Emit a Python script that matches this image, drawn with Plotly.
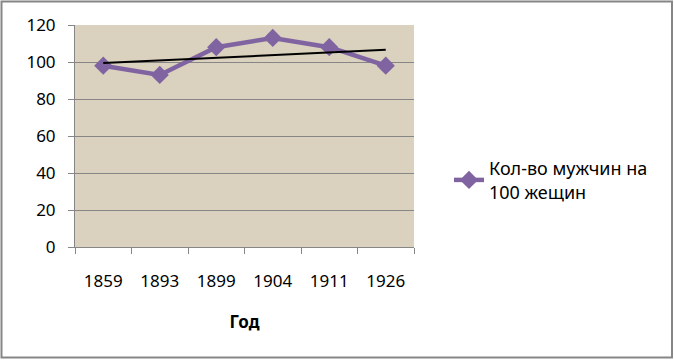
import numpy as np
import plotly.graph_objects as go

years = ["1859", "1893", "1899", "1904", "1911", "1926"]
men_per_100_women = [98, 93, 108, 113, 108, 98]
y_ticks = [0, 20, 40, 60, 80, 100, 120]
series_name = "Кол-во мужчин на<br>100 жещин"
x_title = "Год"

# linear trendline (as in the source spreadsheet chart)
idx = np.arange(1, len(years) + 1)
slope, intercept = np.polyfit(idx, men_per_100_women, 1)
trend = (slope * idx + intercept).tolist()

W, H = 674, 360
L, R, T, B = 75, 260, 25, 113
pw, ph = W - L - R, H - T - B

FONT = "Noto Sans"
fig = go.Figure()
fig.add_trace(go.Scatter(
    x=years, y=men_per_100_women, mode="lines+markers", name=series_name,
    line=dict(color="#8064A2", width=4.5),
    marker=dict(symbol="diamond", size=14, color="#8064A2"),
))
fig.add_trace(go.Scatter(
    x=years, y=trend, mode="lines", showlegend=False,
    line=dict(color="#000000", width=2), hoverinfo="skip",
))

def px_x(p):
    return (p - L) / pw

def px_y(p):
    return (H - B - p) / ph

fig.update_layout(
    width=W, height=H,
    margin=dict(l=L, r=R, t=T, b=B),
    paper_bgcolor="white",
    plot_bgcolor="#DAD1BE",
    font=dict(family=FONT, size=17, color="#000000"),
    showlegend=True,
    legend=dict(x=px_x(449), xanchor="left", y=px_y(180), yanchor="middle",
                font=dict(family=FONT, size=18), bgcolor="rgba(0,0,0,0)"),
    xaxis=dict(
        type="category", tickson="boundaries", ticks="outside", ticklen=6,
        tickcolor="#868686", showline=True, linecolor="#868686", linewidth=1,
        showgrid=False, ticklabelstandoff=19, tickfont=dict(size=17),
        title=dict(text="<b>" + x_title + "</b>", font=dict(size=17), standoff=24),
        range=[-0.5, len(years) - 0.5],
    ),
    yaxis=dict(
        range=[0, 120], tickvals=y_ticks, ticks="outside", ticklen=6,
        tickcolor="#868686", showline=True, linecolor="#868686", linewidth=1,
        showgrid=True, gridcolor="#868686", gridwidth=1, zeroline=False,
        ticklabelstandoff=9, tickfont=dict(size=17),
    ),
    shapes=[dict(type="rect", xref="paper", yref="paper",
                 x0=px_x(1.5), x1=px_x(672), y0=px_y(357.5), y1=px_y(1.5),
                 line=dict(color="#868686", width=2), layer="below")],
)

fig.write_html("out.html", config={"displayModeBar": False},
               post_script="document.body.style.margin='0';")
